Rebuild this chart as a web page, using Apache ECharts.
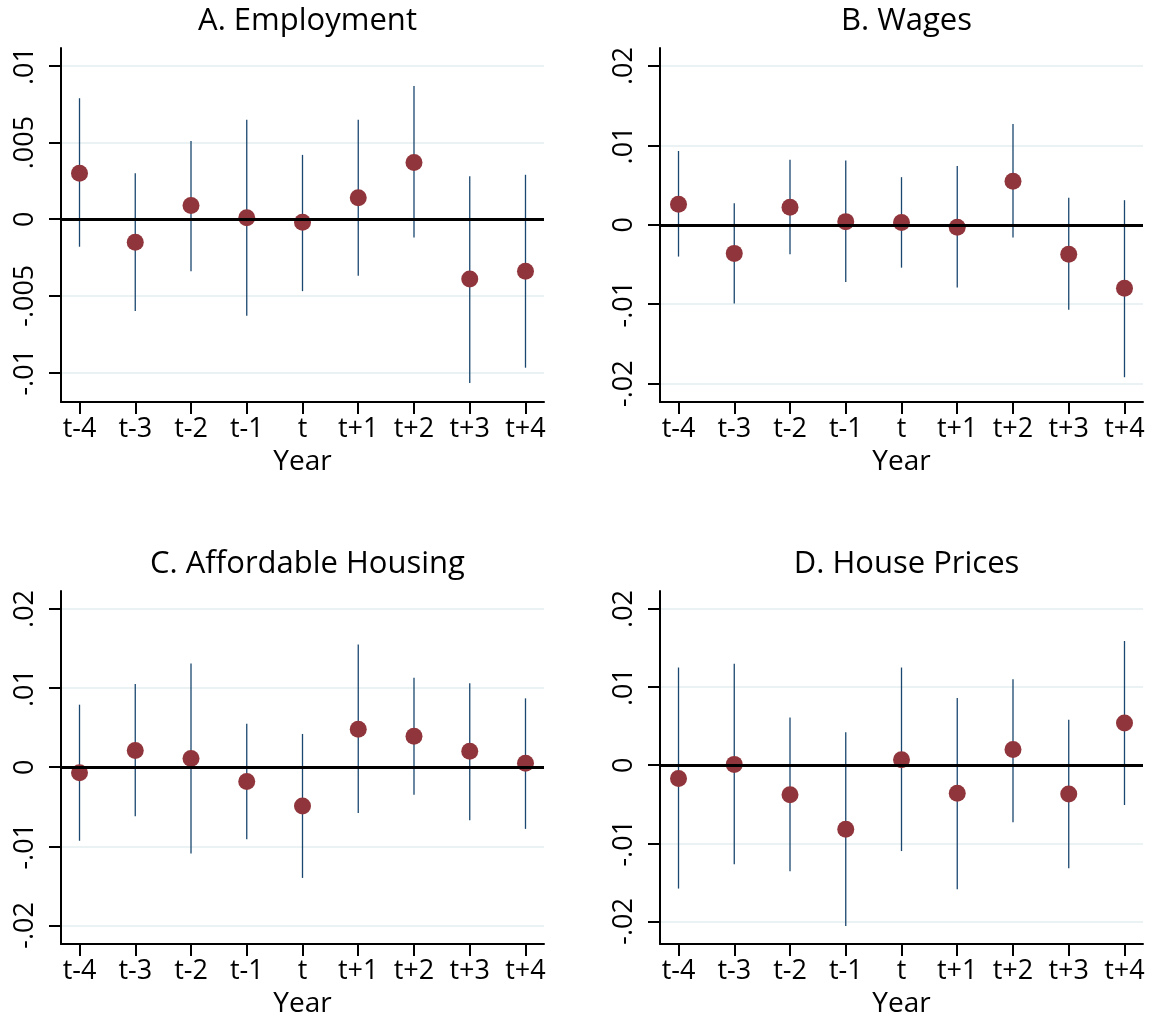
<!DOCTYPE html>
<html><head><meta charset="utf-8">
<script src="https://cdn.jsdelivr.net/npm/echarts@6/dist/echarts.min.js"></script>
<style>html,body{margin:0;padding:0;background:#fff}#c{width:1155px;height:1021px}</style>
</head><body><div id="c"></div>
<script>
const categories = ['t-4','t-3','t-2','t-1','t','t+1','t+2','t+3','t+4'];
const catIndex = [0,1,2,3,4,5,6,7,8];
const panelTitles = ['A. Employment','B. Wages','C. Affordable Housing','D. House Prices'];

const empCoef = [0.0030,-0.0015,0.0009,0.0001,-0.0002,0.0014,0.0037,-0.0039,-0.0034];
const empLow  = [-0.0018,-0.0060,-0.0034,-0.0063,-0.0047,-0.0037,-0.0012,-0.0107,-0.0097];
const empHigh = [0.0079,0.0030,0.0051,0.0065,0.0042,0.0065,0.0087,0.0028,0.0029];

const wageCoef = [0.0026,-0.0036,0.0022,0.0004,0.0003,-0.0003,0.0055,-0.0037,-0.0080];
const wageLow  = [-0.0040,-0.0099,-0.0037,-0.0072,-0.0054,-0.0079,-0.0016,-0.0107,-0.0192];
const wageHigh = [0.0093,0.0027,0.0082,0.0081,0.0060,0.0074,0.0127,0.0034,0.0031];

const ahCoef = [-0.0007,0.0021,0.0011,-0.0018,-0.0049,0.0048,0.0039,0.0020,0.0005];
const ahLow  = [-0.0093,-0.0062,-0.0109,-0.0091,-0.0140,-0.0058,-0.0035,-0.0067,-0.0078];
const ahHigh = [0.0079,0.0105,0.0131,0.0055,0.0042,0.0155,0.0113,0.0106,0.0087];

const hpCoef = [-0.0017,0.0001,-0.0038,-0.0082,0.0007,-0.0036,0.0020,-0.0037,0.0054];
const hpLow  = [-0.0158,-0.0127,-0.0136,-0.0206,-0.0110,-0.0159,-0.0073,-0.0132,-0.0051];
const hpHigh = [0.0125,0.0130,0.0061,0.0042,0.0125,0.0086,0.0110,0.0058,0.0159];

const yTicksA = [-0.01,-0.005,0,0.005,0.01];
const yTickLabelsA = ['-.01','-.005','0','.005','.01'];
const yTicksB = [-0.02,-0.01,0,0.01,0.02];
const yTickLabelsB = ['-.02','-.01','0','.01','.02'];

const panels = [
  {coef: empCoef, low: empLow, high: empHigh, ticks: yTicksA, labels: yTickLabelsA, min: -0.01194, max: 0.01118},
  {coef: wageCoef, low: wageLow, high: wageHigh, ticks: yTicksB, labels: yTickLabelsB, min: -0.02232, max: 0.02227},
  {coef: ahCoef, low: ahLow, high: ahHigh, ticks: yTicksB, labels: yTickLabelsB, min: -0.02235, max: 0.02227},
  {coef: hpCoef, low: hpLow, high: hpHigh, ticks: yTicksB, labels: yTickLabelsB, min: -0.0229, max: 0.0223}
];

const FONT = 'Open Sans';
const gridPos = [
  {left: 61, top: 48, width: 483, height: 354},
  {left: 660, top: 48, width: 483, height: 354},
  {left: 61, top: 591, width: 483, height: 353},
  {left: 660, top: 591, width: 483, height: 353}
];

const option = {
  backgroundColor: '#fff',
  animation: false,
  title: panelTitles.map((t, i) => ({
    text: t,
    left: gridPos[i].left + gridPos[i].width / 2,
    textAlign: 'center',
    top: i < 2 ? 1 : 544,
    textStyle: {fontFamily: FONT, fontSize: 31, fontWeight: 'normal', color: '#000'}
  })),
  grid: gridPos.map(g => Object.assign({containLabel: false}, g)),
  xAxis: panels.map((p, i) => ({
    type: 'value', gridIndex: i, min: -0.332, max: 8.332,
    axisLine: {show: true, onZero: false, lineStyle: {color: '#000', width: 2}},
    axisTick: {show: true, length: 12, customValues: catIndex, lineStyle: {color: '#000', width: 2}},
    axisLabel: {customValues: catIndex, formatter: v => categories[Math.round(v)],
      fontFamily: FONT, fontSize: 27, color: '#000', margin: 14},
    splitLine: {show: false},
    name: 'Year', nameLocation: 'middle', nameGap: 46,
    nameTextStyle: {fontFamily: FONT, fontSize: 28, color: '#000'}
  })),
  yAxis: panels.map((p, i) => ({
    type: 'value', gridIndex: i, min: p.min, max: p.max,
    axisLine: {show: true, onZero: false, lineStyle: {color: '#000', width: 2}},
    axisTick: {show: true, length: 12, customValues: p.ticks, lineStyle: {color: '#000', width: 2}},
    axisLabel: {customValues: p.ticks, rotate: 90,
      formatter: v => { const k = p.ticks.findIndex(t => Math.abs(t - v) < 1e-9); return k >= 0 ? p.labels[k] : ''; },
      fontFamily: FONT, fontSize: 27, color: '#000', margin: 22},
    splitLine: {show: true, lineStyle: {color: '#eaf2f3', width: 2}}
  })),
  series: []
};

panels.forEach((p, i) => {
  option.series.push({
    type: 'custom', xAxisIndex: i, yAxisIndex: i, z: 2,
    data: catIndex.map(k => [k, p.low[k], p.high[k]]),
    encode: {x: 0, y: [1, 2]},
    renderItem: (params, api) => {
      const x = api.value(0);
      const a = api.coord([x, api.value(1)]);
      const b = api.coord([x, api.value(2)]);
      return {type: 'line', shape: {x1: a[0], y1: a[1], x2: b[0], y2: b[1]},
        style: {stroke: '#1a476f', lineWidth: 1.3}};
    },
    markLine: {silent: true, symbol: 'none', label: {show: false},
      lineStyle: {color: '#000', width: 2.8, type: 'solid'},
      data: [{yAxis: 0}]}
  });
  option.series.push({
    type: 'scatter', xAxisIndex: i, yAxisIndex: i, z: 3,
    symbol: 'circle', symbolSize: 17,
    itemStyle: {color: '#90353b', opacity: 1},
    data: catIndex.map(k => [k, p.coef[k]])
  });
});

const chart = echarts.init(document.getElementById('c'), null, {renderer: 'canvas'});
chart.setOption(option);
</script>
</body></html>
